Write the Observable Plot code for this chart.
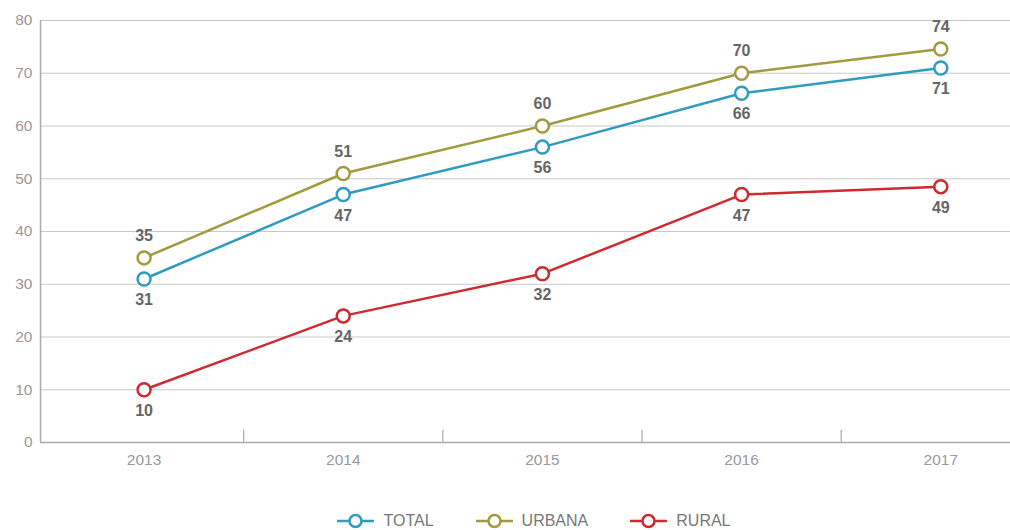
<!DOCTYPE html>
<html><head><meta charset="utf-8">
<script src="https://cdn.jsdelivr.net/npm/d3@7"></script>
<script src="https://cdn.jsdelivr.net/npm/@observablehq/plot@0.6"></script>
<style>
body{margin:0;background:#fff;font-family:"Liberation Sans",Arial,sans-serif;}
#legend{display:flex;justify-content:center;gap:42px;height:30px;align-items:center;margin-left:58px;margin-top:6px;}
.item{display:flex;align-items:center;gap:9px;color:#777;font-size:16px;}
</style>
</head><body>
<div id="chart"></div>
<div id="legend"></div>
<script>
const years = [2013, 2014, 2015, 2016, 2017];
const seriesNames = ["TOTAL", "URBANA", "RURAL"];
const colors = ["#2f9bc1", "#a39a3f", "#cf2a2f"];
const total = [31, 47, 56, 66.2, 71];
const urbana = [35, 51, 60, 70, 74.6];
const rural = [10, 24, 32, 47, 48.5];
const totalLabels = ["31", "47", "56", "66", "71"];
const urbanaLabels = ["35", "51", "60", "70", "74"];
const ruralLabels = ["10", "24", "32", "47", "49"];
const yTicks = [0, 10, 20, 30, 40, 50, 60, 70, 80];
const separators = [2013.5, 2014.5, 2015.5, 2016.5];

const mk = (name, vals, labs) => years.map((y, i) => ({year: y, value: vals[i], label: labs[i], series: name}));
const dTotal = mk("TOTAL", total, totalLabels);
const dUrbana = mk("URBANA", urbana, urbanaLabels);
const dRural = mk("RURAL", rural, ruralLabels);
const all = [...dTotal, ...dUrbana, ...dRural];

const color = {domain: seriesNames, range: colors};

const plot = Plot.plot({
  width: 1010, height: 500,
  marginLeft: 40, marginRight: 0, marginTop: 20, marginBottom: 58,
  style: {fontFamily: "Liberation Sans, Arial, sans-serif", fontSize: "15px", color: "#999"},
  x: {type: "linear", domain: [2012.48, 2017.35], axis: null},
  y: {domain: [0, 80], axis: null},
  color,
  marks: [
    Plot.ruleY(yTicks.filter(d => d > 0), {stroke: "#c8c8c8", strokeWidth: 1.2}),
    Plot.ruleY([0], {stroke: "#aaa", strokeWidth: 1.5}),
    Plot.ruleX([2012.48], {y1: 0, y2: 80, stroke: "#aaa", strokeWidth: 1.5}),
    Plot.ruleX(separators, {y1: 0, y2: 2.3, stroke: "#aaa", strokeWidth: 1.2}),
    Plot.text(yTicks, {x: 2012.48, y: d => d, text: d => String(d), textAnchor: "end", dx: -8, fill: "#999", fontSize: 15.5}),
    Plot.text(years, {x: d => d, y: 0, text: d => String(d), dy: 18, fill: "#999", fontSize: 15.5}),
    Plot.line(all, {x: "year", y: "value", z: "series", stroke: "series", strokeWidth: 2.5}),
    Plot.dot(all, {x: "year", y: "value", stroke: "series", fill: "white", r: 6.5, strokeWidth: 2.5}),
    Plot.text(dUrbana, {x: "year", y: "value", text: "label", dy: -22, fill: "#666", fontWeight: "bold", fontSize: 16}),
    Plot.text(dTotal, {x: "year", y: "value", text: "label", dy: 21, fill: "#666", fontWeight: "bold", fontSize: 16}),
    Plot.text(dRural, {x: "year", y: "value", text: "label", dy: 21, fill: "#666", fontWeight: "bold", fontSize: 16})
  ]
});
document.getElementById("chart").appendChild(plot);

const legend = document.getElementById("legend");
seriesNames.forEach((n, i) => {
  const item = document.createElement("div");
  item.className = "item";
  item.innerHTML = `<svg width="37" height="16"><line x1="0" y1="8" x2="37" y2="8" stroke="${colors[i]}" stroke-width="2.5"/><circle cx="18.5" cy="8" r="6" fill="white" stroke="${colors[i]}" stroke-width="2.5"/></svg><span>${n}</span>`;
  legend.appendChild(item);
});
</script>
</body></html>
